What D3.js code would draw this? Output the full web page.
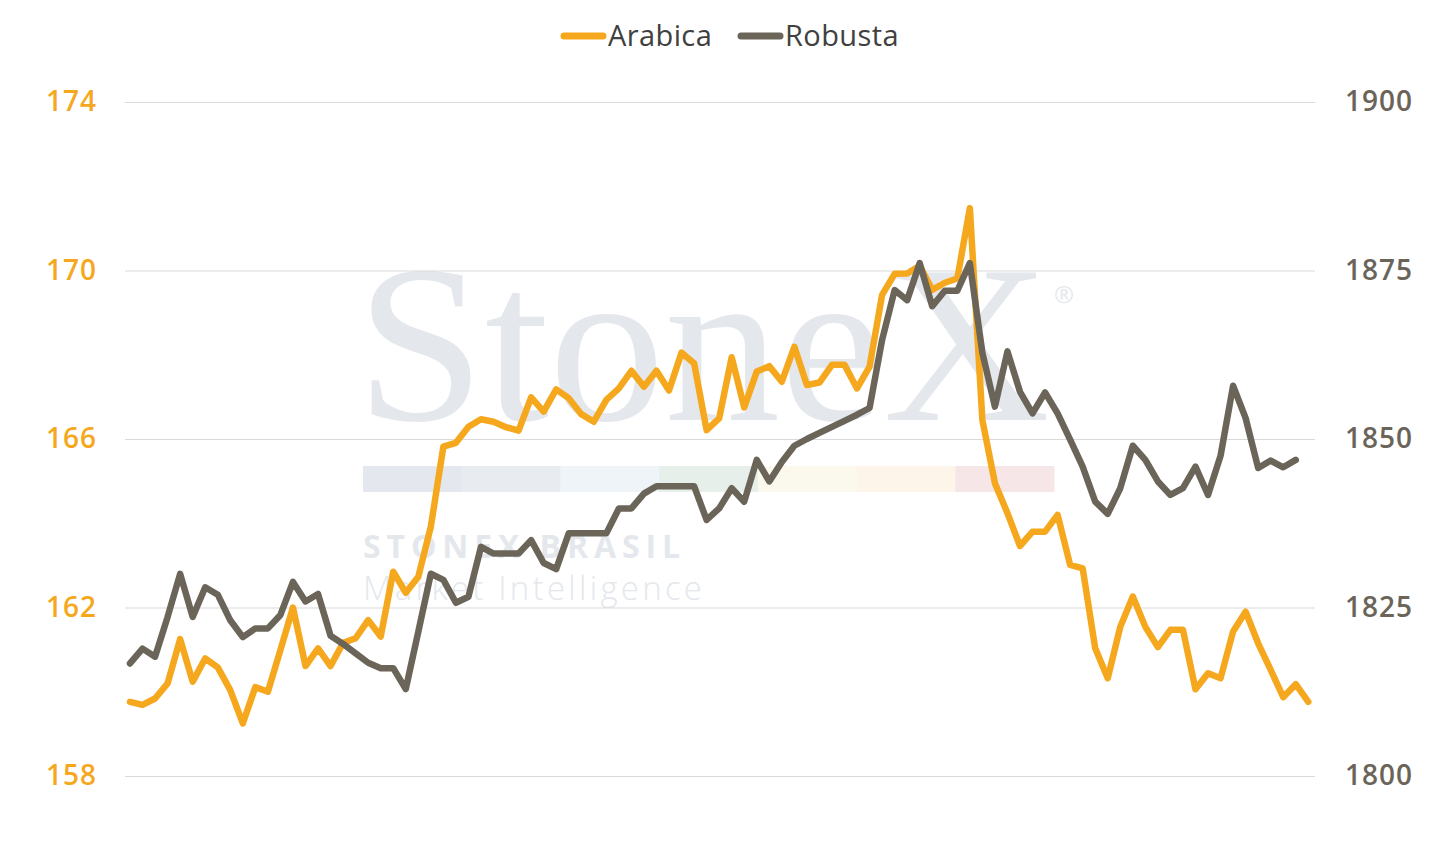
<!DOCTYPE html>
<html>
<head>
<meta charset="utf-8">
<script src="https://cdn.jsdelivr.net/npm/d3@7"></script>
<style>
  html, body { margin: 0; padding: 0; background: #ffffff; }
  svg { display: block; }
</style>
</head>
<body>
<svg id="chart" width="1454" height="842"></svg>
<script>
// ---- Data ----
const seriesNames = ["Arabica", "Robusta"];
const arabica = [
  159.76, 159.69, 159.84, 160.20, 161.25, 160.24, 160.79, 160.58, 160.04, 159.25,
  160.11, 160.00, 160.99, 162.00, 160.61, 161.03, 160.61, 161.16, 161.27, 161.70,
  161.31, 162.85, 162.35, 162.73, 163.92, 165.82, 165.91, 166.29, 166.47, 166.41,
  166.28, 166.20, 166.99, 166.65, 167.18, 166.97, 166.59, 166.41, 166.93, 167.20,
  167.62, 167.24, 167.62, 167.15, 168.05, 167.80, 166.21, 166.49, 167.94, 166.75,
  167.60, 167.73, 167.36, 168.19, 167.28, 167.34, 167.76, 167.76, 167.20, 167.72,
  169.42, 169.92, 169.93, 170.11, 169.54, 169.71, 169.81, 171.48, 166.45, 164.95,
  164.24, 163.46, 163.80, 163.80, 164.20, 163.01, 162.93, 161.03, 160.32, 161.54,
  162.26, 161.54, 161.06, 161.47, 161.47, 160.06, 160.44, 160.32, 161.43, 161.90,
  161.15, 160.52, 159.87, 160.18, 159.76
];
const robusta = [
  1816.7, 1818.9, 1817.7, 1823.6, 1830.0, 1823.6, 1828.0, 1826.9, 1823.1, 1820.6,
  1821.9, 1821.9, 1823.9, 1828.8, 1825.9, 1827.0, 1820.8, 1819.6, 1818.2, 1816.8,
  1816.0, 1816.0, 1812.9, 1821.4, 1830.0, 1829.1, 1825.7, 1826.6, 1834.0, 1833.0,
  1833.0, 1833.0, 1835.0, 1831.6, 1830.7, 1836.0, 1836.0, 1836.0, 1836.0, 1839.7,
  1839.7, 1841.9, 1843.0, 1843.0, 1843.0, 1843.0, 1838.0, 1839.7, 1842.7, 1840.7,
  1846.9, 1843.7, 1846.6, 1849.0, 1850.0, 1850.9, 1851.8, 1852.7, 1853.6, 1854.6,
  1864.7, 1872.1, 1870.6, 1876.1, 1869.7, 1872.0, 1872.0, 1876.1, 1862.8, 1854.8,
  1863.0, 1857.0, 1853.8, 1856.9, 1853.8, 1849.9, 1845.9, 1840.7, 1838.9, 1842.7,
  1849.0, 1846.9, 1843.7, 1841.7, 1842.7, 1845.9, 1841.7, 1847.5, 1857.9, 1853.1,
  1845.7, 1846.8, 1845.8, 1846.9
];
const leftTicks = [158, 162, 166, 170, 174];
const rightTicks = [1800, 1825, 1850, 1875, 1900];
const leftDomain = [158, 174];
const rightDomain = [1800, 1900];

// ---- Styles ----
const COL_A = "#F5A81D";
const COL_R = "#6B6459";
const FONT = "'Open Sans', 'Noto Sans', sans-serif";
const WM = "#e4e8ed";

const svg = d3.select("#chart");

// ---- Layout ----
const plotLeft = 125, plotRight = 1315, plotTop = 102, plotBottom = 776;

const idx = d3.range(arabica.length);
const x = d3.scalePoint().domain(idx).range([130, 1308.3]);
const yL = d3.scaleLinear().domain(leftDomain).range([plotBottom, plotTop]);
const yR = d3.scaleLinear().domain(rightDomain).range([plotBottom, plotTop]);

// ---- Watermark ----
const wm = svg.append("g").attr("class", "watermark");
wm.append("text")
  .attr("x", 356).attr("y", 420)
  .attr("font-family", "'Liberation Serif', 'DejaVu Serif', serif")
  .attr("font-size", 224)
  .attr("fill", WM)
  .attr("textLength", 694)
  .attr("lengthAdjust", "spacingAndGlyphs")
  .text("StoneX");
wm.append("text")
  .attr("x", 1054).attr("y", 303)
  .attr("font-family", FONT)
  .attr("font-size", 24)
  .attr("fill", WM)
  .text("®");
const barColors = ["#e4e8ee", "#e8ecf0", "#eff4f8", "#e6efea", "#fbf9ee", "#fdf5e9", "#f6e6e8"];
const barX = d3.scaleBand().domain(d3.range(barColors.length)).range([363, 1054]);
wm.selectAll("rect.band").data(barColors).join("rect")
  .attr("class", "band")
  .attr("x", (d, i) => barX(i)).attr("y", 466)
  .attr("width", barX.bandwidth() + 0.5).attr("height", 26)
  .attr("fill", d => d);
wm.append("text")
  .attr("x", 363).attr("y", 558)
  .attr("font-family", FONT).attr("font-weight", 700)
  .attr("font-size", 32).attr("fill", WM)
  .attr("textLength", 317).attr("lengthAdjust", "spacing")
  .text("STONEX BRASIL");
wm.append("text")
  .attr("x", 363).attr("y", 600)
  .attr("font-family", FONT).attr("font-weight", 300)
  .attr("font-size", 33).attr("fill", WM)
  .attr("textLength", 339).attr("lengthAdjust", "spacing")
  .text("Market Intelligence");

// ---- Gridlines ----
const grid = svg.append("g")
  .attr("transform", `translate(${plotLeft},0)`)
  .call(d3.axisLeft(yL).tickValues(leftTicks).tickSize(-(plotRight - plotLeft)).tickFormat(""));
grid.select(".domain").remove();
grid.selectAll("line").attr("stroke", "#d9d9d9").attr("stroke-width", 1);

// ---- Axes ----
const axL = svg.append("g")
  .attr("transform", `translate(${plotLeft},0)`)
  .call(d3.axisLeft(yL).tickValues(leftTicks).tickSize(0).tickPadding(28).tickFormat(d3.format("d")));
axL.select(".domain").remove();
axL.selectAll("text")
  .attr("font-family", FONT).attr("font-weight", 600)
  .attr("font-size", 28).attr("letter-spacing", 1).attr("fill", COL_A);

const axR = svg.append("g")
  .attr("transform", `translate(${plotRight},0)`)
  .call(d3.axisRight(yR).tickValues(rightTicks).tickSize(0).tickPadding(30).tickFormat(d3.format("d")));
axR.select(".domain").remove();
axR.selectAll("text")
  .attr("font-family", FONT).attr("font-weight", 600)
  .attr("font-size", 28).attr("letter-spacing", 1).attr("fill", COL_R);

// ---- Lines ----
const lineA = d3.line().x((d, i) => x(i)).y(d => yL(d));
const lineR = d3.line().x((d, i) => x(i)).y(d => yR(d));

svg.append("path").datum(arabica)
  .attr("d", lineA).attr("fill", "none")
  .attr("stroke", COL_A).attr("stroke-width", 6.5)
  .attr("stroke-linejoin", "round").attr("stroke-linecap", "round");
svg.append("path").datum(robusta)
  .attr("d", lineR).attr("fill", "none")
  .attr("stroke", COL_R).attr("stroke-width", 6.5)
  .attr("stroke-linejoin", "round").attr("stroke-linecap", "round");

// ---- Legend ----
const legendItems = [
  { name: seriesNames[0], color: COL_A, x: 561 },
  { name: seriesNames[1], color: COL_R, x: 738 }
];
const lg = svg.append("g");
legendItems.forEach(it => {
  lg.append("line")
    .attr("x1", it.x + 3).attr("x2", it.x + 42)
    .attr("y1", 36).attr("y2", 36)
    .attr("stroke", it.color).attr("stroke-width", 7)
    .attr("stroke-linecap", "round");
  lg.append("text")
    .attr("x", it.x + 47).attr("y", 46)
    .attr("font-family", FONT).attr("font-size", 29)
    .attr("letter-spacing", 0.4)
    .attr("fill", "#404040")
    .text(it.name);
});
</script>
</body>
</html>
